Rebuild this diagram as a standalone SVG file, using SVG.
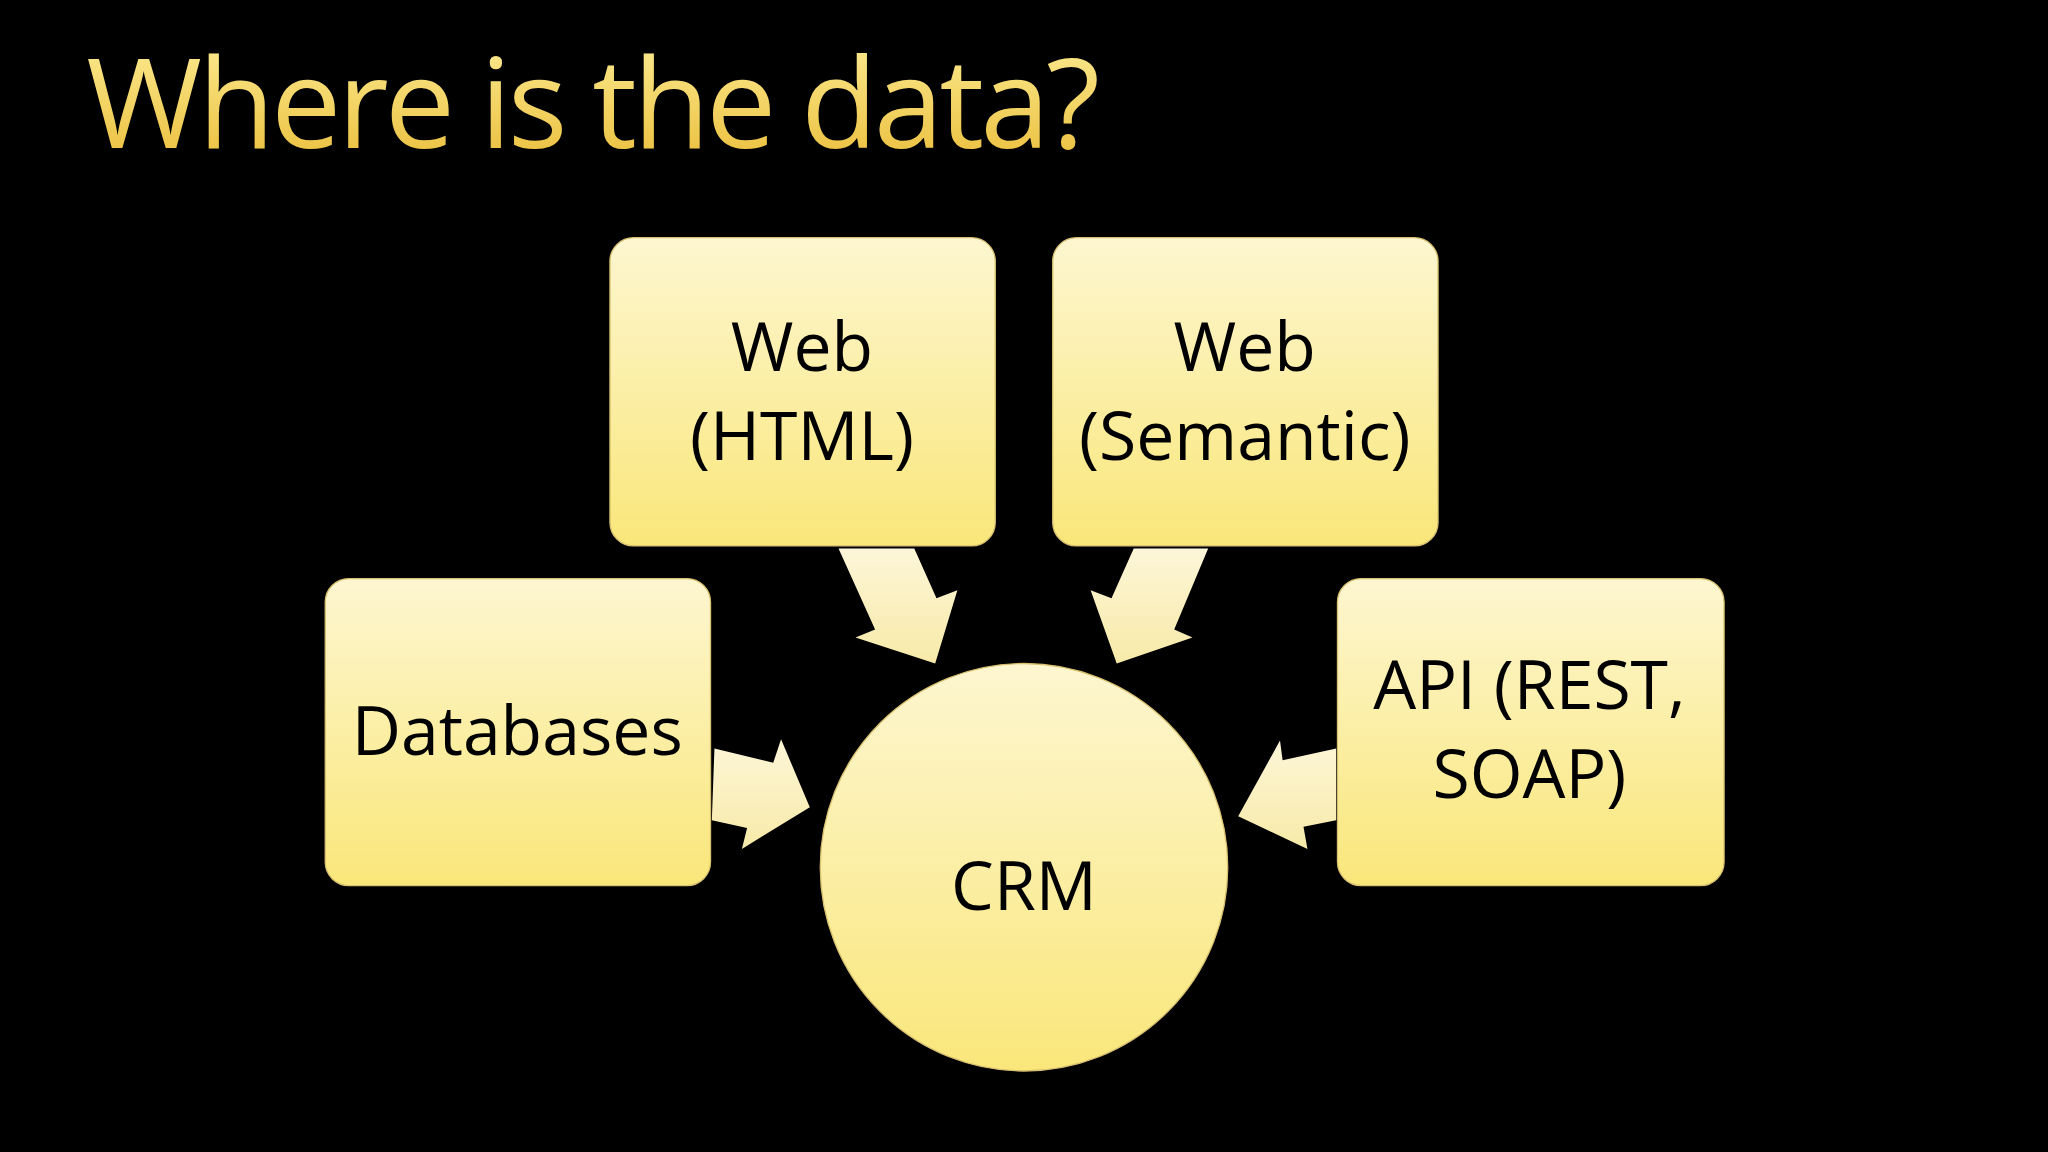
<svg xmlns="http://www.w3.org/2000/svg" width="2048" height="1152" viewBox="0 0 2048 1152">
<defs>
<linearGradient id="tg" x1="0" y1="0" x2="0" y2="1"><stop offset="0" stop-color="#fff3a0"/><stop offset="1" stop-color="#e8b830"/></linearGradient>
<linearGradient id="bg" x1="0" y1="0" x2="0" y2="1"><stop offset="0" stop-color="#fdf6d0"/><stop offset="1" stop-color="#f9e77a"/></linearGradient>
<linearGradient id="ag" x1="0" y1="0" x2="0" y2="1"><stop offset="0" stop-color="#fdf6d8"/><stop offset="1" stop-color="#f7eaa8"/></linearGradient>
<style>
.box{fill:url(#bg);stroke:#d8c070;stroke-width:1}
.t{font-family:"Open Sans","Noto Sans",sans-serif;font-size:52px;fill:#000;text-anchor:middle}
.ar{fill:url(#ag)}
</style>
</defs>
<rect width="2048" height="1152" fill="#000"/>
<g transform="scale(1.30612)">
<text x="66" y="113" font-family="'Open Sans','Noto Sans',sans-serif" font-size="96" fill="url(#tg)" letter-spacing="-3">Where is the data?</text>
<g id="connectors">
<polygon class="ar" points="547,573 592,584 598,566 620,618 568,650 572,634 545,628"/>
<polygon class="ar" points="1023,573 982,582 980,567 948,625 1001,650 998,633 1023,628"/>
<polygon class="ar" points="642,420 700,420 717,458 733,452 716,508 655,488 670,482"/>
<polygon class="ar" points="925,420 868,420 851,458 835,452 855,508 913,488 899,482"/>
</g>
<g id="web-html"><rect class="box" x="467" y="182" width="295" height="236" rx="18"/><text class="t" x="614" y="284">Web</text><text class="t" x="614" y="352">(HTML)</text></g>
<g id="web-semantic"><rect class="box" x="806" y="182" width="295" height="236" rx="18"/><text class="t" x="953" y="284">Web</text><text class="t" x="953" y="352">(Semantic)</text></g>
<g id="databases"><rect class="box" x="249" y="443" width="295" height="235" rx="18"/><text class="t" x="396" y="578">Databases</text></g>
<g id="api"><rect class="box" x="1024" y="443" width="296" height="235" rx="18"/><text class="t" x="1171" y="543">API (REST,</text><text class="t" x="1171" y="611">SOAP)</text></g>
<g id="crm"><circle class="box" cx="784" cy="664" r="156"/><text class="t" x="784" y="697" font-size="96">CRM</text></g>
</g>
</svg>
